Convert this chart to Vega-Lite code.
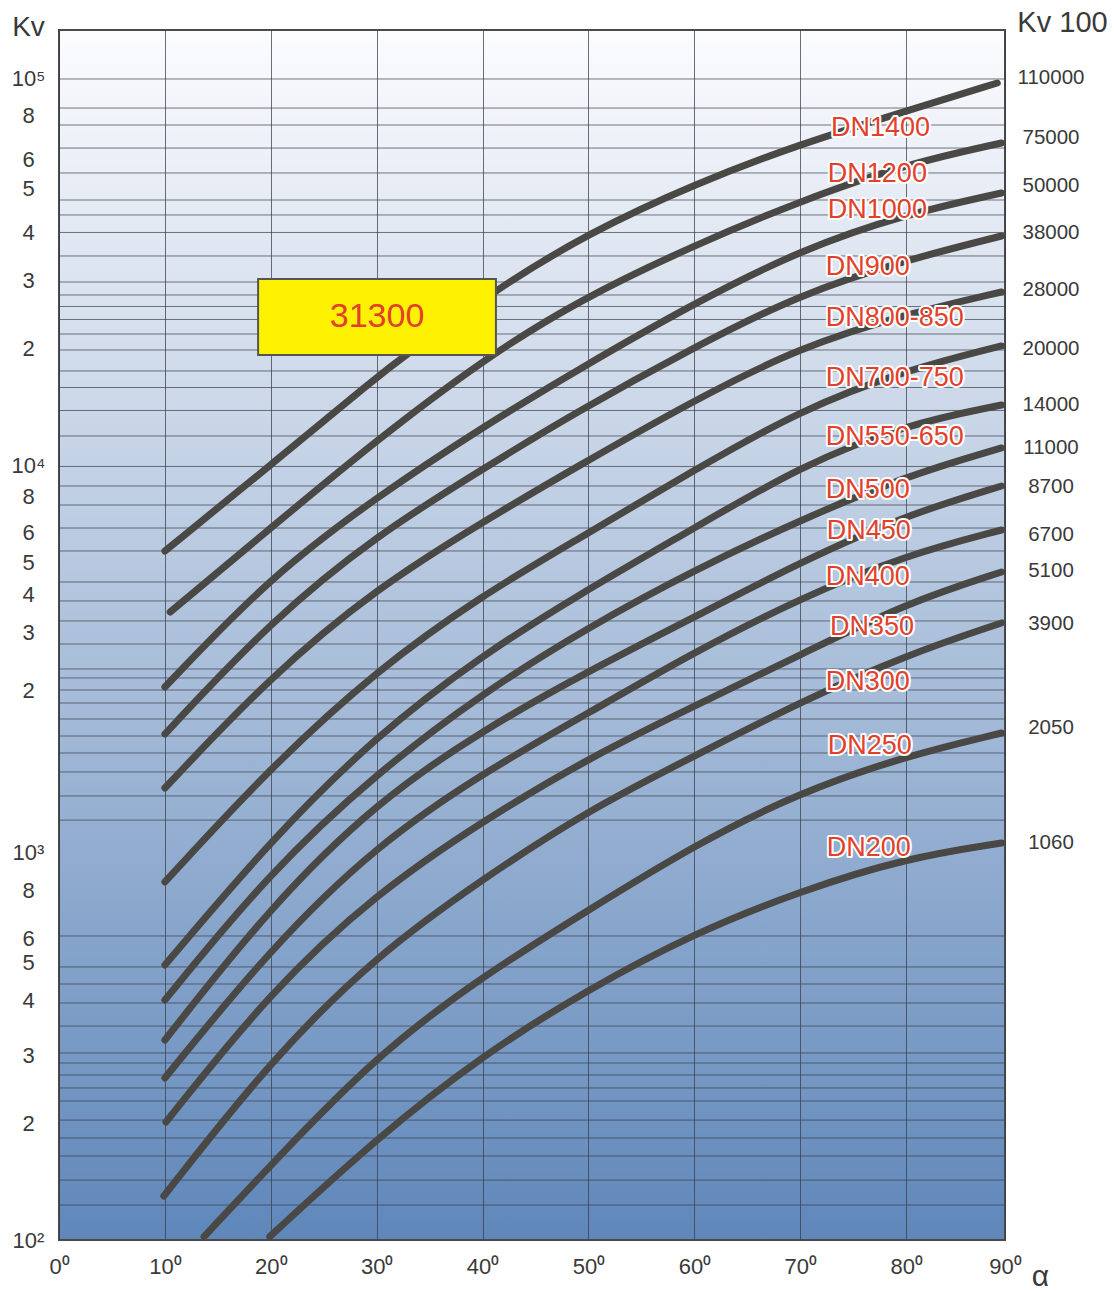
{
  "$schema": "https://vega.github.io/schema/vega-lite/v6.json",
  "width": 946,
  "height": 1210,
  "autosize": {"type": "none"},
  "padding": {"left": 59, "top": 30, "right": 109, "bottom": 51},
  "background": "#ffffff",
  "view": {
    "stroke": "#4a4a4a",
    "strokeWidth": 2,
    "fill": {"gradient": "linear", "x1": 0, "y1": 0, "x2": 0, "y2": 1, "stops": [{"offset": 0, "color": "#fcfcfe"}, {"offset": 1, "color": "#5f87ba"}]}
  },
  "config": {
    "font": "Liberation Sans, Arial, sans-serif",
    "axis": {"labelFont": "Liberation Sans, Arial, sans-serif", "titleFont": "Liberation Sans, Arial, sans-serif", "labelColor": "#3a3a3a", "titleColor": "#3a3a3a"}
  },
  "datasets": {
    "curves": [
      {"s": "DN1400", "a": 10.0, "kv": 6012}, {"s": "DN1400", "a": 20, "kv": 10020}, {"s": "DN1400", "a": 30, "kv": 16914}, {"s": "DN1400", "a": 32.6, "kv": 19160}, {"s": "DN1400", "a": 41.3, "kv": 28540}, {"s": "DN1400", "a": 50, "kv": 39810}, {"s": "DN1400", "a": 60, "kv": 53280}, {"s": "DN1400", "a": 70, "kv": 67580}, {"s": "DN1400", "a": 80, "kv": 82240}, {"s": "DN1400", "a": 88.6, "kv": 97110},
      {"s": "DN1200", "a": 10.5, "kv": 4183}, {"s": "DN1200", "a": 20, "kv": 6893}, {"s": "DN1200", "a": 30, "kv": 11634}, {"s": "DN1200", "a": 40, "kv": 18715}, {"s": "DN1200", "a": 49.1, "kv": 26734}, {"s": "DN1200", "a": 60, "kv": 37070}, {"s": "DN1200", "a": 70, "kv": 48155}, {"s": "DN1200", "a": 80, "kv": 60010}, {"s": "DN1200", "a": 89.0, "kv": 67990},
      {"s": "DN1000", "a": 10.0, "kv": 2678}, {"s": "DN1000", "a": 20, "kv": 5181}, {"s": "DN1000", "a": 30, "kv": 8287}, {"s": "DN1000", "a": 40, "kv": 12565}, {"s": "DN1000", "a": 49.1, "kv": 17740}, {"s": "DN1000", "a": 60, "kv": 26260}, {"s": "DN1000", "a": 70, "kv": 35990}, {"s": "DN1000", "a": 80, "kv": 44580}, {"s": "DN1000", "a": 89.0, "kv": 50500},
      {"s": "DN900", "a": 10.0, "kv": 2025}, {"s": "DN900", "a": 20, "kv": 3965}, {"s": "DN900", "a": 30, "kv": 6611}, {"s": "DN900", "a": 40, "kv": 9782}, {"s": "DN900", "a": 48.7, "kv": 13656}, {"s": "DN900", "a": 60, "kv": 20217}, {"s": "DN900", "a": 70, "kv": 27700}, {"s": "DN900", "a": 80, "kv": 33910}, {"s": "DN900", "a": 89.0, "kv": 39110},
      {"s": "DN800-850", "a": 10.0, "kv": 1469}, {"s": "DN800-850", "a": 20, "kv": 2859}, {"s": "DN800-850", "a": 30, "kv": 4824}, {"s": "DN800-850", "a": 40, "kv": 7143}, {"s": "DN800-850", "a": 48.7, "kv": 9848}, {"s": "DN800-850", "a": 60, "kv": 14750}, {"s": "DN800-850", "a": 70, "kv": 20217}, {"s": "DN800-850", "a": 80, "kv": 24580}, {"s": "DN800-850", "a": 89.0, "kv": 28040},
      {"s": "DN700-750", "a": 10.0, "kv": 840.2}, {"s": "DN700-750", "a": 20, "kv": 1664}, {"s": "DN700-750", "a": 30, "kv": 2963}, {"s": "DN700-750", "a": 40, "kv": 4628}, {"s": "DN700-750", "a": 48.7, "kv": 6380}, {"s": "DN700-750", "a": 60, "kv": 9729}, {"s": "DN700-750", "a": 70, "kv": 13900}, {"s": "DN700-750", "a": 80, "kv": 17630}, {"s": "DN700-750", "a": 89.0, "kv": 20340},
      {"s": "DN550-650", "a": 10.0, "kv": 512.9}, {"s": "DN550-650", "a": 20, "kv": 1078}, {"s": "DN550-650", "a": 30, "kv": 2013}, {"s": "DN550-650", "a": 40, "kv": 3240}, {"s": "DN550-650", "a": 48.7, "kv": 4573}, {"s": "DN550-650", "a": 60, "kv": 6893}, {"s": "DN550-650", "a": 70, "kv": 9964}, {"s": "DN550-650", "a": 80, "kv": 12770}, {"s": "DN550-650", "a": 89.0, "kv": 14320},
      {"s": "DN500", "a": 10.0, "kv": 416.5}, {"s": "DN500", "a": 20, "kv": 896.9}, {"s": "DN500", "a": 30, "kv": 1606}, {"s": "DN500", "a": 40, "kv": 2584}, {"s": "DN500", "a": 50, "kv": 3826}, {"s": "DN500", "a": 60, "kv": 5369}, {"s": "DN500", "a": 70, "kv": 7228}, {"s": "DN500", "a": 80, "kv": 9390}, {"s": "DN500", "a": 89.0, "kv": 11091},
      {"s": "DN450", "a": 10.0, "kv": 328.4}, {"s": "DN450", "a": 20, "kv": 728.5}, {"s": "DN450", "a": 30, "kv": 1352}, {"s": "DN450", "a": 40, "kv": 2074}, {"s": "DN450", "a": 50, "kv": 2945}, {"s": "DN450", "a": 60, "kv": 4060}, {"s": "DN450", "a": 70, "kv": 5630}, {"s": "DN450", "a": 80, "kv": 7447}, {"s": "DN450", "a": 89.0, "kv": 8848},
      {"s": "DN400", "a": 10.0, "kv": 262.0}, {"s": "DN400", "a": 20, "kv": 567.5}, {"s": "DN400", "a": 30, "kv": 1047}, {"s": "DN400", "a": 40, "kv": 1606}, {"s": "DN400", "a": 50, "kv": 2295}, {"s": "DN400", "a": 60, "kv": 3298}, {"s": "DN400", "a": 70, "kv": 4546}, {"s": "DN400", "a": 80, "kv": 5870}, {"s": "DN400", "a": 89.0, "kv": 6811},
      {"s": "DN350", "a": 10.1, "kv": 201.7}, {"s": "DN350", "a": 20, "kv": 439.5}, {"s": "DN350", "a": 30, "kv": 787}, {"s": "DN350", "a": 40, "kv": 1207}, {"s": "DN350", "a": 50, "kv": 1756}, {"s": "DN350", "a": 60, "kv": 2392}, {"s": "DN350", "a": 70, "kv": 3240}, {"s": "DN350", "a": 80, "kv": 4413}, {"s": "DN350", "a": 89.0, "kv": 5306},
      {"s": "DN300", "a": 9.9, "kv": 129.9}, {"s": "DN300", "a": 20, "kv": 291.6}, {"s": "DN300", "a": 30, "kv": 544.3}, {"s": "DN300", "a": 40, "kv": 855.3}, {"s": "DN300", "a": 50, "kv": 1289}, {"s": "DN300", "a": 60, "kv": 1777}, {"s": "DN300", "a": 70, "kv": 2450}, {"s": "DN300", "a": 80, "kv": 3240}, {"s": "DN300", "a": 89.0, "kv": 3919},
      {"s": "DN250", "a": 13.7, "kv": 102}, {"s": "DN250", "a": 20, "kv": 156.2}, {"s": "DN250", "a": 30, "kv": 300.4}, {"s": "DN250", "a": 40, "kv": 480.4}, {"s": "DN250", "a": 50, "kv": 711.3}, {"s": "DN250", "a": 60, "kv": 1047}, {"s": "DN250", "a": 70, "kv": 1435}, {"s": "DN250", "a": 80, "kv": 1777}, {"s": "DN250", "a": 89.0, "kv": 2037},
      {"s": "DN200", "a": 19.9, "kv": 102}, {"s": "DN200", "a": 30, "kv": 183.4}, {"s": "DN200", "a": 40, "kv": 300.4}, {"s": "DN200", "a": 50, "kv": 444.7}, {"s": "DN200", "a": 60, "kv": 620.3}, {"s": "DN200", "a": 70, "kv": 796.4}, {"s": "DN200", "a": 80, "kv": 968.9}, {"s": "DN200", "a": 89.0, "kv": 1059}
    ],
    "hgrid": [
      {"kv": 99470}, {"kv": 83700}, {"kv": 75660}, {"kv": 65980}, {"kv": 56890}, {"kv": 48440}, {"kv": 44320}, {"kv": 39940}, {"kv": 34730}, {"kv": 29750}, {"kv": 27540}, {"kv": 25720}, {"kv": 23810}, {"kv": 21840}, {"kv": 19860}, {"kv": 17530}, {"kv": 15890}, {"kv": 13860}, {"kv": 11910},
      {"kv": 9936}, {"kv": 8847}, {"kv": 7902}, {"kv": 6892}, {"kv": 6012}, {"kv": 5000}, {"kv": 4467}, {"kv": 3966}, {"kv": 3458}, {"kv": 2981}, {"kv": 2826}, {"kv": 2631}, {"kv": 2435}, {"kv": 2214}, {"kv": 2001}, {"kv": 1809}, {"kv": 1616}, {"kv": 1401}, {"kv": 1214},
      {"kv": 609.5}, {"kv": 506.9}, {"kv": 458.1}, {"kv": 409.2}, {"kv": 356.8}, {"kv": 304.0}, {"kv": 286.4}, {"kv": 266.7}, {"kv": 246.9}, {"kv": 228.5}, {"kv": 204.0}, {"kv": 183.4}, {"kv": 164.8}, {"kv": 142.8}, {"kv": 123.1}
    ],
    "ends": [
      {"t": "110000", "kv": 100060}, {"t": "75000", "kv": 70050}, {"t": "50000", "kv": 52660}, {"t": "38000", "kv": 39810}, {"t": "28000", "kv": 28380}, {"t": "20000", "kv": 19980}, {"t": "14000", "kv": 14320}, {"t": "11000", "kv": 11090}, {"t": "8700", "kv": 8795}, {"t": "6700", "kv": 6612}, {"t": "5100", "kv": 5339}, {"t": "3900", "kv": 3895}, {"t": "2050", "kv": 2099}, {"t": "1060", "kv": 1059}
    ],
    "labels": [
      {"t": "DN1400", "a": 72.9, "kv": 74330}, {"t": "DN1200", "a": 72.6, "kv": 56540}, {"t": "DN1000", "a": 72.6, "kv": 45660}, {"t": "DN900", "a": 72.4, "kv": 32530}, {"t": "DN800-850", "a": 72.4, "kv": 24020}, {"t": "DN700-750", "a": 72.4, "kv": 16810}, {"t": "DN550-650", "a": 72.4, "kv": 11840}, {"t": "DN500", "a": 72.4, "kv": 8639}, {"t": "DN450", "a": 72.5, "kv": 6770}, {"t": "DN400", "a": 72.4, "kv": 5151}, {"t": "DN350", "a": 72.8, "kv": 3826}, {"t": "DN300", "a": 72.4, "kv": 2759}, {"t": "DN250", "a": 72.6, "kv": 1886}, {"t": "DN200", "a": 72.5, "kv": 1028}
    ],
    "box": [{"a1": 18.8, "a2": 41.26, "k1": 19280, "k2": 30290, "a": 30.03, "kv": 24160, "t": "31300"}]
  },
  "resolve": {"axis": {"x": "independent", "y": "independent"}},
  "layer": [
    {
      "data": {"name": "hgrid"},
      "mark": {"type": "rule", "color": "#3b3f48", "opacity": 0.7, "strokeWidth": 1},
      "encoding": {
        "y": {"field": "kv", "type": "quantitative", "scale": {"type": "log", "domain": [100, 133100], "nice": false}, "axis": null}
      }
    },
    {
      "data": {"name": "curves"},
      "mark": {"type": "line", "color": "#4a4845", "strokeWidth": 7, "strokeCap": "round", "strokeJoin": "round", "interpolate": "basis"},
      "encoding": {
        "x": {"field": "a", "type": "quantitative", "scale": {"domain": [0, 89.33], "nice": false, "zero": false},
          "axis": {"values": [0, 10, 20, 30, 40, 50, 60, 70, 80, 89.33], "labelExpr": "datum.value > 85 ? '90⁰' : format(datum.value, 'd') + '⁰'", "grid": true, "gridColor": "#3b3f48", "gridOpacity": 0.75, "gridWidth": 1, "ticks": false, "tickSize": 0, "domain": false, "labelFontSize": 22, "labelPadding": 26, "labelBaseline": "middle", "labelFlush": false, "labelOverlap": false,
            "title": "α", "titleFontSize": 30, "titleFontWeight": "normal", "titleAngle": 0, "titleAlign": "center", "titleBaseline": "alphabetic", "titleX": 981, "titleY": 45}},
        "y": {"field": "kv", "type": "quantitative", "scale": {"type": "log", "domain": [100, 133100], "nice": false},
          "axis": {"orient": "left", "values": [100000, 80000, 61500, 52000, 40000, 30000, 20000, 10000, 8300, 6700, 5600, 4650, 3700, 2630, 1000, 800, 600, 520, 416, 300, 200, 100],
            "labelExpr": "datum.value == 100 ? '10²' : datum.value == 1000 ? '10³' : datum.value == 10000 ? '10⁴' : datum.value == 100000 ? '10⁵' : '' + floor(datum.value / pow(10, floor(log(datum.value) / LN10)))",
            "labelFontSize": 22, "labelAlign": "center", "labelBaseline": "middle", "labelPadding": 31, "ticks": false, "tickSize": 0, "domain": false, "grid": false, "labelFlush": false, "labelOverlap": false,
            "title": "Kv", "titleFontSize": 28, "titleFontWeight": "normal", "titleAngle": 0, "titleAlign": "center", "titleBaseline": "middle", "titleX": -31, "titleY": -3}},
        "detail": {"field": "s", "type": "nominal"}
      }
    },
    {
      "data": {"name": "box"},
      "mark": {"type": "rect", "fill": "#fff200", "stroke": "#555555", "strokeWidth": 2},
      "encoding": {
        "x": {"field": "a1", "type": "quantitative", "axis": null},
        "x2": {"field": "a2"},
        "y": {"field": "k1", "type": "quantitative", "axis": null},
        "y2": {"field": "k2"}
      }
    },
    {
      "data": {"name": "box"},
      "mark": {"type": "text", "color": "#e2402a", "fontSize": 34, "align": "center", "baseline": "middle"},
      "encoding": {
        "x": {"field": "a", "type": "quantitative", "axis": null},
        "y": {"field": "kv", "type": "quantitative", "axis": null},
        "text": {"field": "t"}
      }
    },
    {
      "data": {"name": "labels"},
      "mark": {"type": "text", "fill": "#ffffff", "stroke": "#ffffff", "strokeWidth": 4, "strokeJoin": "round", "fontSize": 27, "align": "left", "baseline": "middle"},
      "encoding": {
        "x": {"field": "a", "type": "quantitative", "axis": null},
        "y": {"field": "kv", "type": "quantitative", "axis": null},
        "text": {"field": "t"}
      }
    },
    {
      "data": {"name": "labels"},
      "mark": {"type": "text", "fill": "#e2402a", "fontSize": 27, "align": "left", "baseline": "middle"},
      "encoding": {
        "x": {"field": "a", "type": "quantitative", "axis": null},
        "y": {"field": "kv", "type": "quantitative", "axis": null},
        "text": {"field": "t"}
      }
    },
    {
      "data": {"name": "ends"},
      "mark": {"type": "text", "color": "#3a3a3a", "fontSize": 20.5, "align": "center", "baseline": "middle", "dx": 46},
      "encoding": {
        "x": {"datum": 89.33, "type": "quantitative", "axis": null},
        "y": {"field": "kv", "type": "quantitative",
          "axis": {"orient": "right", "labels": false, "ticks": false, "domain": false, "grid": false, "values": [],
            "title": "Kv 100", "titleFontSize": 29, "titleFontWeight": "normal", "titleAngle": 0, "titleAlign": "center", "titleBaseline": "middle", "titleX": 57, "titleY": -8}},
        "text": {"field": "t"}
      }
    }
  ]
}
